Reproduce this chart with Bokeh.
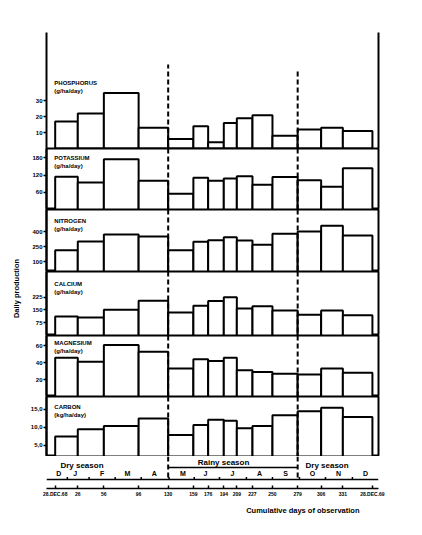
import math
from bokeh.plotting import figure
from bokeh.layouts import column, row
from bokeh.models import Range1d, FixedTicker, Span, Label, LinearAxis, AllLabels, Title
from bokeh.core.properties import value
from bokeh.embed import file_html
from bokeh.resources import INLINE

# ---------------- data ----------------
# sampling-period edges, cumulative days of observation (from 28 Dec 1968)
edges = [0, 26, 56, 96, 130, 159, 176, 194, 209, 227, 250, 279, 306, 331, 365]
edge_labels = ["28.DEC.68", "26", "56", "96", "130", "159", "176", "194", "209",
               "227", "250", "279", "306", "331", "28.DEC.69"]

phosphorus = [17, 22, 35, 13, 6, 14, 4, 16, 19, 21, 8, 12, 13, 11]
potassium = [114, 94, 175, 100, 55, 111, 100, 108, 116, 86, 113, 102, 79, 144]
nitrogen = [215, 302, 373, 353, 215, 299, 315, 346, 312, 269, 380, 403, 460, 363]
calcium = [112, 106, 151, 204, 135, 175, 203, 224, 159, 172, 147, 122, 147, 119]
magnesium = [46, 41, 61, 53, 33, 44, 42, 46, 31, 29, 27, 26, 33, 28]
carbon = [7.4, 9.4, 10.3, 12.4, 7.8, 10.6, 12.1, 11.8, 9.7, 10.3, 13.3, 14.4, 15.4, 12.8]

months = ["D", "J", "F", "M", "A", "M", "J", "J", "A", "S", "O", "N", "D"]
month_days = [4, 23, 54, 83, 114, 147, 173, 204, 235, 265, 296, 326, 357]
month_ticks = [14, 39, 69, 99, 131, 160, 189, 220, 250, 281, 311, 342]

season_names = ["Dry season", "Rainy season", "Dry season"]
season_text_days = [6, 164, 288]
season_bounds = [130, 279]

# ---------------- layout ----------------
FONT = "Liberation Sans"
SIDE = 24          # narrow strip holding the vertical "Daily production" text
W = 376
LEFT = 22
RIGHT = 22
BOTTOM_H = 32
BOTTOM_BORDER = 31
xr = Range1d(-10, 372)

panels = [
    dict(name="PHOSPHORUS", unit="(g/ha/day)", vals=phosphorus, start=0, end=73.0, h=116,
         ticks=[10, 20, 30], tlab=["10", "20", "30"], title_off=47),
    dict(name="POTASSIUM", unit="(g/ha/day)", vals=potassium, start=0, end=212.5, h=61,
         ticks=[60, 120, 180], tlab=["60", "120", "180"], title_off=6),
    dict(name="NITROGEN", unit="(g/ha/day)", vals=nitrogen, start=0, end=625, h=62,
         ticks=[100, 250, 400], tlab=["100", "250", "400"], title_off=8),
    dict(name="CALCIUM", unit="(g/ha/day)", vals=calcium, start=0, end=376, h=64,
         ticks=[75, 150, 225], tlab=["75", "150", "225"], title_off=9),
    dict(name="MAGNESIUM", unit="(g/ha/day)", vals=magnesium, start=0, end=72.2, h=61,
         ticks=[20, 40, 60], tlab=["20", "40", "60"], title_off=4),
    dict(name="CARBON", unit="(kg/ha/day)", vals=carbon, start=1.86, end=18.53, h=60,
         ticks=[5, 10, 15], tlab=["5,0", "10,0", "15,0"], title_off=7),
]
TOP0 = 32


def px_to_y(pan, off_from_top):
    return pan["end"] - off_from_top * (pan["end"] - pan["start"]) / pan["h"]


figs = []
for i, pan in enumerate(panels):
    top = TOP0 if i == 0 else 0
    p = figure(width=W, height=pan["h"] + top, x_range=xr,
               y_range=Range1d(pan["start"], pan["end"]),
               output_backend="svg", toolbar_location=None,
               x_axis_location=None,
               min_border_left=LEFT, min_border_right=RIGHT,
               min_border_top=top, min_border_bottom=0)
    p.xgrid.visible = False
    p.ygrid.visible = False
    p.background_fill_color = "white"
    p.border_fill_color = "white"
    if i == 0:
        p.outline_line_color = None
        rax = LinearAxis(ticker=FixedTicker(ticks=[]), axis_line_width=2,
                         axis_line_color="black", major_tick_line_color=None,
                         minor_tick_line_color=None, major_label_text_font_size="1px")
        p.add_layout(rax, "right")
        p.add_layout(Span(location=pan["start"], dimension="width",
                          line_color="black", line_width=2))
    else:
        p.outline_line_color = "black"
        p.outline_line_width = 2
        p.outline_line_alpha = 1.0

    ax = p.yaxis[0]
    ax.ticker = FixedTicker(ticks=pan["ticks"])
    ax.major_label_overrides = {t: l for t, l in zip(pan["ticks"], pan["tlab"])}
    ax.axis_line_width = 2
    ax.axis_line_color = "black"
    ax.major_tick_out = 3
    ax.major_tick_in = 0
    ax.major_tick_line_width = 1.5
    ax.major_tick_line_color = "black"
    ax.minor_tick_line_color = None
    ax.major_label_standoff = 1
    ax.major_label_text_font = FONT
    ax.major_label_text_font_style = "bold"
    ax.major_label_text_font_size = "6px"
    ax.major_label_text_color = "black"

    p.quad(left=edges[:-1], right=edges[1:], bottom=pan["start"], top=pan["vals"],
           fill_color="white", line_color="black", line_width=2)

    if i == 0:
        p.segment(x0=season_bounds, x1=season_bounds,
                  y0=[pan["start"]] * 2,
                  y1=[px_to_y(pan, 32), px_to_y(pan, 37)],
                  line_color="black", line_width=2, line_dash="5 3")
    else:
        for d in season_bounds:
            p.add_layout(Span(location=d, dimension="height", line_color="black",
                              line_width=2, line_dash="5 3"))

    p.add_layout(Label(x=-1, y=px_to_y(pan, pan["title_off"]), text=pan["name"],
                       text_font=FONT, text_font_style="bold", text_font_size="6px",
                       text_color="black", text_baseline="top", text_align="left"))
    p.add_layout(Label(x=-1, y=px_to_y(pan, pan["title_off"] + 8), text=pan["unit"],
                       text_font=FONT, text_font_style="bold", text_font_size="6px",
                       text_color="black", text_baseline="top", text_align="left"))
    figs.append(p)

# ---------------- bottom time axis panel ----------------
pb = figure(width=W, height=BOTTOM_H + BOTTOM_BORDER, x_range=xr, y_range=Range1d(0, BOTTOM_H),
            output_backend="svg", toolbar_location=None, y_axis_location=None,
            min_border_left=LEFT, min_border_right=RIGHT,
            min_border_top=0, min_border_bottom=BOTTOM_BORDER)
pb.xgrid.visible = False
pb.ygrid.visible = False
pb.outline_line_color = None
xa = pb.xaxis[0]
xa.ticker = FixedTicker(ticks=edges)
xa.major_label_overrides = {d: l for d, l in zip(edges, edge_labels)}
xa.major_label_policy = AllLabels()
xa.axis_line_width = 1.5
xa.axis_line_color = "black"
xa.major_tick_in = 3
xa.major_tick_out = 0
xa.major_tick_line_width = 1.5
xa.major_tick_line_color = "black"
xa.minor_tick_line_color = None
xa.major_label_standoff = 2
xa.major_label_text_font = FONT
xa.major_label_text_font_style = "bold"
xa.major_label_text_font_size = "5px"
xa.major_label_text_color = "black"

pb.add_layout(Title(text="Cumulative days of observation", align="right", offset=19,
                    standoff=8, text_font=FONT, text_font_style="bold",
                    text_font_size="7.5px", text_color="black"), "below")

pb.text(x=season_text_days, y=[23, 26, 23], text=season_names,
        text_font=value(FONT), text_font_style="bold", text_font_size="8px",
        text_color="black", text_align="left", text_baseline="middle")
pb.segment(x0=[season_bounds[0]], x1=[season_bounds[1]], y0=[21], y1=[21],
           line_color="black", line_width=1.5)
pb.segment(x0=season_bounds, x1=season_bounds, y0=[32, 32], y1=[8, 8],
           line_color="black", line_width=2, line_dash="5 3")
pb.add_layout(Span(location=9, dimension="width", line_color="black", line_width=1.5))
pb.segment(x0=month_ticks, x1=month_ticks, y0=[9] * len(month_ticks),
           y1=[11.5] * len(month_ticks), line_color="black", line_width=1.5)
pb.text(x=month_days, y=[12] * len(month_days), text=months,
        text_font=value(FONT), text_font_style="bold", text_font_size="7px",
        text_color="black", text_align="center", text_baseline="bottom")
figs.append(pb)

total_h = sum(f.height for f in figs)

# ---------------- side strip with the shared y label ----------------
side = figure(width=SIDE, height=total_h, x_range=Range1d(0, SIDE), y_range=Range1d(0, total_h),
              output_backend="svg", toolbar_location=None,
              x_axis_location=None, y_axis_location=None,
              min_border_left=0, min_border_right=0, min_border_top=0, min_border_bottom=0)
side.xgrid.visible = False
side.ygrid.visible = False
side.outline_line_color = None
side.text(x=[16], y=[total_h - 288], text=["Daily production"], angle=math.pi / 2,
          text_font=value(FONT), text_font_style="bold", text_font_size="7.5px",
          text_color="black", text_align="center", text_baseline="middle")

layout = row(side, column(*figs, spacing=0), spacing=0)
open("out.html", "w").write(file_html(layout, INLINE))
